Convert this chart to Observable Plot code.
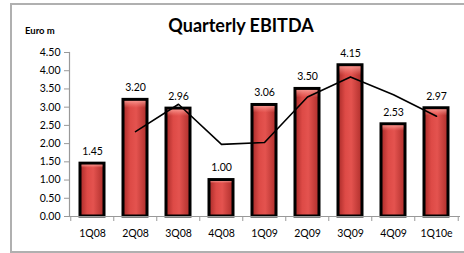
<!DOCTYPE html>
<html>
<head>
<meta charset="utf-8">
<script src="https://cdn.jsdelivr.net/npm/d3@7"></script>
<script src="https://cdn.jsdelivr.net/npm/@observablehq/plot@0.6"></script>
<style>
  html, body { margin: 0; padding: 0; background: #fff; }
  #wrap { position: relative; width: 464px; height: 253px; overflow: hidden; font-family: Lato, "Open Sans", sans-serif; }
  #frame { position: absolute; left: 10px; top: 3px; width: 470px; height: 250px; border: 2px solid #b0b0b0; box-sizing: border-box; pointer-events: none; }
  #title { position: absolute; left: 0; width: 482px; top: 14px; text-align: center; font-weight: bold; font-size: 18px; color: #000; }
  #unit { position: absolute; left: 25px; top: 25px; font-weight: bold; font-size: 9.5px; color: #000; }
  svg { position: absolute; left: 0; top: 0; }
</style>
</head>
<body>
<div id="wrap">
  <div id="chart"></div>
  <div id="title">Quarterly EBITDA</div>
  <div id="unit">Euro m</div>
  <div id="frame"></div>
</div>
<script>
const quarters = ["1Q08","2Q08","3Q08","4Q08","1Q09","2Q09","3Q09","4Q09","1Q10e"];
const ebitda = [1.45, 3.20, 2.96, 1.00, 3.06, 3.50, 4.15, 2.53, 2.97];
const trendQuarters = ["2Q08","3Q08","4Q08","1Q09","2Q09","3Q09","4Q09","1Q10e"];
const trendValues = [2.33, 3.08, 1.98, 2.03, 3.28, 3.83, 3.34, 2.75];
const yTicks = [0,0.5,1,1.5,2,2.5,3,3.5,4,4.5];

const bars = quarters.map((q, i) => ({q, v: ebitda[i]}));
const trend = trendQuarters.map((q, i) => ({q, v: trendValues[i]}));

const W = 464, H = 253, ML = 69, MR = 4, MT = 52, MB = 37;
const step = (W - ML - MR) / quarters.length;

const plot = Plot.plot({
  width: W, height: H,
  marginLeft: ML, marginRight: MR, marginTop: MT, marginBottom: MB,
  style: {fontFamily: "Lato, 'Open Sans', sans-serif", fontSize: "10px", color: "#000", background: "transparent"},
  x: {domain: quarters, paddingInner: 0.44, paddingOuter: 0.22, label: null},
  y: {domain: [0, 4.5], label: null},
  marks: [
    Plot.barY(bars, {x: "q", y: "v", fill: "url(#barGrad)", stroke: "#000", strokeWidth: 3}),
    Plot.barY(bars, {x: "q", y: "v", fill: "url(#barTop)", insetTop: 1.5, insetLeft: 1.5, insetRight: 1.5}),
    Plot.text(bars, {x: "q", y: "v", text: d => d.v.toFixed(2), dy: -12, fontSize: 10.5, fill: "#000"}),
    Plot.lineY(trend, {x: "q", y: "v", stroke: "#000", strokeWidth: 1.6}),
    Plot.ruleY([0], {stroke: "#999", strokeWidth: 1.2}),
    Plot.frame({anchor: "left", stroke: "#999", strokeWidth: 1.2}),
    Plot.axisY({ticks: yTicks, tickFormat: d => d.toFixed(2), tickSize: 5, tickPadding: 4, stroke: "#999", fontSize: 10.5, label: null}),
    Plot.axisX({tickSize: 5, text: null, dx: -step / 2, stroke: "#999"}),
    Plot.axisX({ticks: quarters.slice(-1), tickSize: 5, text: null, dx: step / 2, stroke: "#999"}),
    Plot.axisX({tickSize: 0, tickPadding: 13, fontSize: 10.5, label: null})
  ]
});

const defs = d3.select(plot).insert("defs", ":first-child");
const g = defs.append("linearGradient").attr("id", "barGrad").attr("x1", "0").attr("x2", "1").attr("y1", "0").attr("y2", "0");
g.append("stop").attr("offset", "0%").attr("stop-color", "#a82a28");
g.append("stop").attr("offset", "30%").attr("stop-color", "#dd4a46");
g.append("stop").attr("offset", "55%").attr("stop-color", "#e4534f");
g.append("stop").attr("offset", "100%").attr("stop-color", "#ae2e2b");
const t = defs.append("linearGradient").attr("id", "barTop").attr("x1", "0").attr("x2", "0").attr("y1", "0").attr("y2", "1");
t.append("stop").attr("offset", "0%").attr("stop-color", "#ffb0a8").attr("stop-opacity", 0.7);
t.append("stop").attr("offset", "6%").attr("stop-color", "#ff9088").attr("stop-opacity", 0.0);
t.append("stop").attr("offset", "100%").attr("stop-color", "#ff9088").attr("stop-opacity", 0.0);

document.getElementById("chart").appendChild(plot);
</script>
</body>
</html>
